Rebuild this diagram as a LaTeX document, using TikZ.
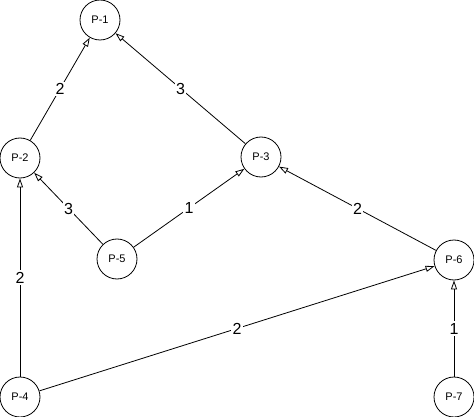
\documentclass[tikz,border=0pt]{standalone}
\usepackage{fontspec}
\setmainfont{Liberation Sans}
\usetikzlibrary{arrows.meta,positioning,calc}

\tikzset{
  proc/.style={draw,circle,minimum size=40pt,inner sep=0pt,line width=0.8pt,font=\fontsize{11}{13}\selectfont},
  flow/.style={-{Triangle[open,length=9pt,width=6pt]},line width=0.8pt},
  wt/.style={fill=white,inner sep=1.5pt,font=\fontsize{16}{18}\selectfont}
}

\begin{document}
\begin{tikzpicture}[x=1pt,y=-1pt]
  \useasboundingbox (0,0) rectangle (474,417);
  \node[proc] (p1) at (100,20) {P-1}; % 最上段
  \node[proc] (p2) at (20,158) {P-2};
  \node[proc] (p3) at (261,157) {P-3};
  \node[proc] (p5) at (117,259) {P-5};
  \node[proc] (p6) at (454,260) {P-6};
  \node[proc] (p4) at (20,397) {P-4}; % 最下段
  \node[proc] (p7) at (454,397) {P-7};
  \draw[flow] (p2) -- node[wt] {2} (p1);
  \draw[flow] (p3) -- node[wt] {3} (p1);
  \draw[flow] (p5) -- node[wt] {3} (p2);
  \draw[flow] (p5) -- node[wt] {1} (p3);
  \draw[flow] (p6) -- node[wt] {2} (p3);
  \draw[flow] (p4) -- node[wt] {2} (p2);
  \draw[flow] (p4) -- node[wt] {2} (p6);
  \draw[flow] (p7) -- node[wt] {1} (p6);
\end{tikzpicture}
\end{document}
